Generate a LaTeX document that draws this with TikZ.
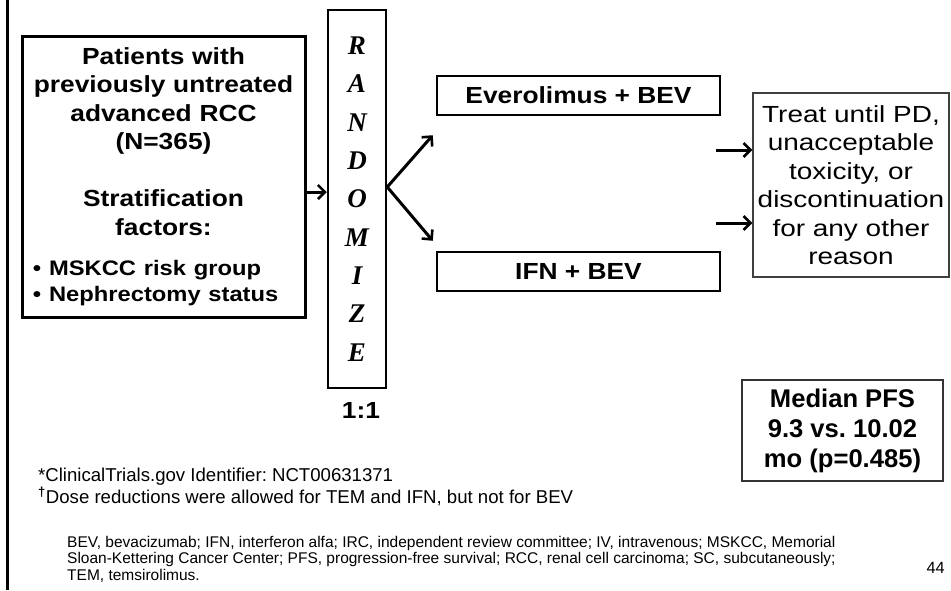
\documentclass[tikz,border=0pt]{standalone}
\usepackage{fontspec}
\setmainfont{Liberation Sans}
\newfontfamily\widesans[FakeStretch=1.13]{Liberation Sans}
\newfontfamily\treatfont[FakeStretch=1.2]{Liberation Sans}
\newfontfamily\randfont{Liberation Serif}
\usetikzlibrary{arrows.meta, positioning}
\frenchspacing

\begin{document}
\begin{tikzpicture}[x=1pt, y=-1pt,
  thickbox/.style={draw, line width=2.5pt, inner sep=0pt},
  arr/.style={-{Straight Barb[length=7pt,width=14pt,line width=2.6pt]}, line width=3pt}]
\useasboundingbox (0,0) rectangle (951,590);

% rule on the left
\draw[line width=3pt] (7,0) -- (7,590);

% patients and stratification
\node[thickbox, line width=3pt, minimum width=283pt, minimum height=281pt, text width=261pt,
  font=\widesans\bfseries\fontsize{23.3}{28.5}\selectfont] (pat) at (163.5,176.5)
  {{\centering Patients with\\previously untreated\\advanced RCC\\(N=365)\\[28.5pt]Stratification\\factors:\par}
   \vspace{14pt}
   {\fontsize{21}{26}\selectfont\raggedright\textbullet\ MSKCC risk group\\\textbullet\ Nephrectomy status\par}};

% randomize column
\node[thickbox, minimum width=58pt, minimum height=378pt, align=center,
  font=\randfont\bfseries\itshape\fontsize{27}{38.3}\selectfont] (rnd) at (357,199)
  {R\\A\\N\\D\\O\\M\\I\\Z\\E};
\node[anchor=base, font=\widesans\bfseries\fontsize{23.3}{28}\selectfont] (ratio) at (361,418) {1:1};

% the two arms
\node[thickbox, minimum width=283pt, minimum height=39pt, font=\widesans\bfseries\fontsize{23.3}{28}\selectfont] (evr) at (578.5,95.5) {Everolimus + BEV};
\node[thickbox, minimum width=283pt, minimum height=39pt, font=\widesans\bfseries\fontsize{23.3}{28}\selectfont] (ifn) at (578.5,271.5) {IFN + BEV};

% treatment rule
\node[draw=black!75, line width=1.2pt, minimum width=196pt, minimum height=184pt, align=center,
  font=\treatfont\fontsize{23.3}{28.5}\selectfont] (trt) at (851,185)
  {Treat until PD,\\unacceptable\\toxicity, or\\discontinuation\\for any other\\reason};

% result
\node[draw=black!80, line width=1.8pt, minimum width=201pt, minimum height=101pt, align=center,
  font=\bfseries\fontsize{25.6}{30}\selectfont] (pfs) at (842.5,430.5)
  {Median PFS\\9.3 vs.\ 10.02\\mo (p=0.485)};

% arrows
\draw[arr] ([yshift=-15.5pt]pat.east) -- ([yshift=-15.5pt]pat.east -| rnd.west);
\draw[arr] ([yshift=12pt]rnd.east) -- ([xshift=-3pt,yshift=-19pt]evr.south west);
\draw[arr] ([yshift=12pt]rnd.east) -- ([xshift=-3pt,yshift=10pt]ifn.north west);
\draw[arr] ([xshift=-36pt,yshift=35pt]trt.west) -- ([yshift=35pt]trt.west);
\draw[arr] ([xshift=-36pt,yshift=-38pt]trt.west) -- ([yshift=-38pt]trt.west);

% footnotes
\node[anchor=base west, inner sep=0pt, font=\fontsize{18.6}{21.5}\selectfont] (fn1) at (38,481.7) {*ClinicalTrials.gov Identifier: NCT00631371};
\node[anchor=base west, inner sep=0pt, font=\fontsize{18.6}{21.5}\selectfont] (fn2) at (38,503) {\textsuperscript{\bfseries †}Dose reductions were allowed for TEM and IFN, but not for BEV};
\node[anchor=north west, inner sep=0pt, align=left, font=\fontsize{15.5}{16.3}\selectfont] (abbr) at (67,536)
  {BEV, bevacizumab; IFN, interferon alfa; IRC, independent review committee; IV, intravenous; MSKCC, Memorial\\
   Sloan-Kettering Cancer Center; PFS, progression-free survival; RCC, renal cell carcinoma; SC, subcutaneously;\\
   TEM, temsirolimus.};
\node[anchor=base east, inner sep=0pt, font=\fontsize{16.3}{18}\selectfont] (pg) at (945,573) {44};
\end{tikzpicture}
\end{document}
